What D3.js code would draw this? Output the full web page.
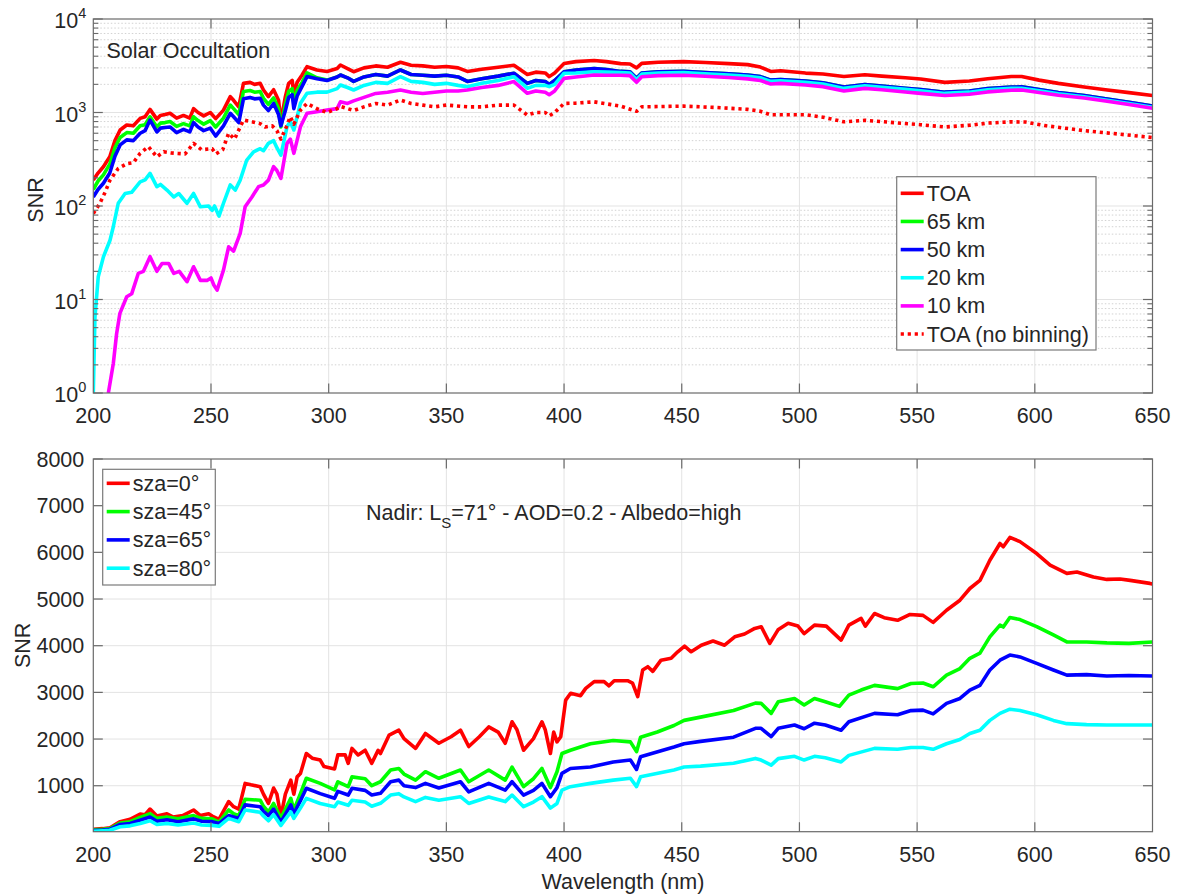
<!DOCTYPE html>
<html><head><meta charset="utf-8">
<script src="https://cdn.jsdelivr.net/npm/d3@7"></script>
<style>
body{margin:0;background:#fff}
svg{display:block}
text{font-family:"Liberation Sans",Arial,Helvetica,sans-serif;fill:#262626}
</style>
</head><body>
<svg id="c" width="1177" height="895"></svg>
<script>
// ---------------- DATA ----------------
const wlTicks = [200,250,300,350,400,450,500,550,600,650];
const topYTicks = [1,10,100,1000,10000];
const botYTicks = [1000,2000,3000,4000,5000,6000,7000,8000];

const topSeriesNames = ["TOA","65 km","50 km","20 km","10 km","TOA (no binning)"];
const botSeriesNames = ["sza=0°","sza=45°","sza=65°","sza=80°"];

// Top panel (Solar Occultation), [wavelength nm, SNR]
const toa = [[200,190],[202,225],[204.3,263],[207,336],[209.2,500],[211.4,650],[214.2,735],[217,720],[219.9,865],[222,900],[224.1,1080],[227,850],[228.5,930],[230.5,950],[232.6,980],[235.4,870],[238.3,930],[241,870],[242.6,1100],[244.5,1000],[246.9,920],[249.7,1000],[252,860],[255.3,1060],[258.2,1480],[259.6,1350],[261.8,1150],[263.8,2050],[266.6,2100],[268.5,2000],[270.9,2050],[272.3,1740],[274.4,1480],[276.6,1750],[278.7,1350],[279.7,800],[281.6,1480],[283,2050],[284.5,2200],[285.2,1600],[286.6,2100],[288.7,2520],[290.8,3090],[295,2850],[299.3,2750],[303.6,2950],[305,3220],[308,2950],[310.6,2730],[315,3000],[320,3150],[325,3050],[330.5,3450],[335,3200],[340,3150],[345,3050],[350,3100],[355,3000],[358.9,2750],[365,2900],[372,3050],[378.7,3200],[384.4,2550],[388,2700],[392,2650],[393.7,2420],[396,2650],[400,3350],[405,3500],[412.8,3600],[418,3500],[424,3330],[428,3300],[430.8,3000],[433,3350],[440,3450],[450.8,3500],[460,3420],[470,3330],[478,3250],[483.4,3060],[487.8,2750],[492,2800],[502.6,2640],[510,2580],[518.9,2430],[527.8,2530],[535,2450],[545,2350],[551.5,2280],[561.8,2100],[572.2,2170],[580,2300],[590,2430],[594.4,2430],[601.8,2220],[610,2050],[621,1870],[630,1750],[640,1630],[650,1520]];

const km65 = [[200,150],[202,185],[204.3,215],[207,280],[209.2,420],[211.4,540],[214.2,610],[217,600],[219.9,720],[222,740],[224.1,900],[227,700],[228.5,770],[230.5,780],[232.6,800],[235.4,710],[238.3,760],[241,720],[242.6,900],[244.5,820],[246.9,750],[249.7,820],[252,700],[255.3,870],[258.2,1200],[259.6,1100],[261.8,950],[263.8,1680],[266.6,1720],[268.5,1650],[270.9,1680],[272.3,1420],[274.4,1220],[276.6,1430],[278.7,1100],[279.7,700],[281.6,1220],[283,1680],[284.5,1800],[285.2,1300],[286.6,1720],[288.7,2100],[290.8,2650],[295,2350],[299.3,2220],[303.6,2400],[305,2520],[308,2350],[310.6,2150],[315,2400],[320,2550],[325,2450],[330.5,2850],[335,2550],[340,2500],[345,2450],[350,2500],[355,2400],[358.9,2150],[365,2300],[372,2450],[378.7,2630],[384.4,2050],[388,2200],[392,2150],[393.7,2000],[396,2200],[400,2730],[405,2850],[412.8,2960],[418,2880],[424,2750],[428,2720],[430.8,2320],[433,2650],[440,2720],[450.8,2750],[460,2680],[470,2600],[478,2520],[483.4,2420],[487.8,2220],[492,2250],[502.6,2170],[510,2080],[518.9,1870],[527.8,1990],[535,1920],[545,1820],[551.5,1760],[561.8,1650],[572.2,1700],[580,1800],[590,1870],[594.4,1880],[601.8,1760],[610,1640],[621,1515],[630,1400],[640,1290],[650,1170]];

const km50 = [[200,125],[202,150],[204.3,175],[207,225],[209.2,340],[211.4,450],[214.2,510],[217,500],[219.9,600],[222,640],[224.1,830],[227,620],[228.5,680],[230.5,690],[232.6,700],[235.4,610],[238.3,660],[241,620],[242.6,780],[244.5,700],[246.9,640],[249.7,680],[252,560],[255.3,720],[258.2,980],[259.6,900],[261.8,780],[263.8,1400],[266.6,1450],[268.5,1400],[270.9,1420],[272.3,1200],[274.4,1050],[276.6,1250],[278.7,950],[279.7,720],[281.6,1050],[283,1450],[284.5,1550],[285.2,1100],[286.6,1500],[288.7,1900],[290.8,2420],[295,2300],[299.3,2200],[303.6,2400],[305,2520],[308,2350],[310.6,2150],[315,2400],[320,2550],[325,2450],[330.5,2850],[335,2550],[340,2500],[345,2450],[350,2500],[355,2400],[358.9,2150],[365,2300],[372,2450],[378.7,2630],[384.4,2050],[388,2200],[392,2150],[393.7,2000],[396,2200],[400,2730],[405,2850],[412.8,2960],[418,2880],[424,2750],[428,2720],[430.8,2320],[433,2650],[440,2720],[450.8,2750],[460,2680],[470,2600],[478,2520],[483.4,2420],[487.8,2220],[492,2250],[502.6,2170],[510,2080],[518.9,1870],[527.8,1990],[535,1920],[545,1820],[551.5,1760],[561.8,1650],[572.2,1700],[580,1800],[590,1870],[594.4,1880],[601.8,1760],[610,1640],[621,1515],[630,1400],[640,1290],[650,1170]];

const km20 = [[200,1],[200.7,6.5],[202.1,17.5],[204.3,28.6],[207.1,43],[208.5,60],[210.6,107],[213.5,136],[216.3,140],[219.9,181],[222,190],[224.1,223],[227,161],[228.5,170],[231.3,148],[234.2,125],[236.3,136],[239.8,107],[242.6,136],[245.5,98],[249,100],[250.5,90],[251.5,100],[253.4,78],[255.3,107],[258.2,168],[260.3,148],[262.4,189],[265.2,310],[268.1,380],[270.9,410],[272.3,390],[274.4,468],[276.6,500],[278,420],[279.7,350],[282.3,703],[283.7,800],[285.2,650],[288,1253],[290.8,1604],[295,1650],[299.3,1650],[303.6,1800],[305,1970],[308,1850],[310.6,1740],[315,1950],[320,2100],[325,2050],[330.5,2415],[335,2150],[340,2100],[345,2000],[350,2050],[355,1950],[358.9,1890],[365,2050],[372,2200],[378.7,2415],[384.4,1820],[388,1950],[392,1950],[393.7,1890],[396,2000],[400,2630],[405,2650],[412.8,2730],[418,2700],[424,2670],[428,2640],[430.8,2250],[433,2570],[440,2640],[450.8,2670],[460,2600],[470,2520],[478,2440],[483.4,2350],[487.8,2150],[492,2180],[502.6,2100],[510,2020],[518.9,1810],[527.8,1930],[535,1860],[545,1770],[551.5,1710],[561.8,1600],[572.2,1650],[580,1750],[590,1810],[594.4,1820],[601.8,1710],[610,1590],[621,1470],[630,1360],[640,1250],[650,1140]];

const km10 = [[206.4,1],[208.5,2.07],[209.9,4.3],[211.3,7.1],[214.2,10.7],[216.3,11.5],[219.1,19],[221.3,20],[224.1,28.7],[227,20],[229.2,24.3],[232,24.3],[234.2,19],[236.5,20],[239.8,15.5],[242.6,22.4],[245.5,16],[248.3,16],[250,17],[251.2,14.3],[252.6,12.6],[255.3,20.6],[257.5,36.6],[259.6,33],[262.4,51],[264.5,98],[267.4,125],[270.2,161],[272.3,168],[274.4,189],[276.6,263],[278,240],[279.7,197],[282.3,468],[283.7,520],[285.2,366],[288,703],[290.8,980],[295,1020],[299.3,1062],[303.6,1100],[305,1300],[308,1250],[310.6,1330],[315,1450],[320,1600],[325,1650],[330.5,1740],[335,1650],[340,1600],[345,1650],[350,1700],[355,1700],[358.9,1740],[365,1850],[372,1950],[378.7,2140],[384.4,1604],[388,1700],[392,1650],[393.7,1550],[396,1700],[400,2317],[405,2400],[412.8,2520],[418,2500],[424,2500],[428,2480],[430.8,2110],[433,2410],[440,2480],[450.8,2500],[460,2440],[470,2370],[478,2290],[483.4,2200],[487.8,2020],[492,2050],[502.6,1970],[510,1890],[518.9,1700],[527.8,1810],[535,1750],[545,1660],[551.5,1600],[561.8,1520],[572.2,1570],[580,1660],[590,1730],[594.4,1740],[601.8,1640],[610,1530],[621,1430],[630,1330],[640,1220],[650,1110]];

const toaNoBin = [[200,83],[202.8,107],[205,140],[207.1,189],[210.6,252],[214.2,283],[217,290],[219.9,366],[223.4,431],[227,336],[229.9,380],[233,370],[236,365],[239,360],[242.6,468],[246,400],[250.5,410],[252,360],[255,400],[257.5,600],[260,520],[263.8,830],[267,800],[270.9,760],[273,700],[276,720],[278,640],[279.7,520],[282,700],[283.7,900],[285.2,750],[288,1060],[290.8,1250],[295,1100],[299.3,1000],[303.6,1100],[305,1160],[310.6,1050],[315,1150],[320,1250],[325,1200],[330.5,1360],[335,1250],[340,1200],[345,1150],[350,1200],[358.9,1150],[365,1150],[372,1200],[378.7,1200],[384.4,940],[388,1000],[392,1000],[393.7,920],[396,1000],[400,1250],[405,1260],[412.8,1300],[424,1170],[430.8,1030],[433,1150],[450.8,1170],[465,1130],[478,1080],[483.4,1030],[487.8,945],[502.6,945],[510,890],[518.9,795],[527.8,825],[540,780],[551.5,740],[561.8,700],[572.2,730],[580,770],[590,795],[596,790],[605,720],[621,640],[635,590],[650,540]];

// Bottom panel (Nadir), [wavelength nm, SNR]
const sza0 = [[200,66],[204,80],[207.1,100],[211.4,230],[215.6,280],[219.9,394],[222,380],[224.1,500],[227,350],[231.3,400],[234,330],[238,360],[242.6,480],[245.5,360],[249,400],[250.5,350],[253.4,280],[257.5,660],[259.6,550],[261.8,500],[264.5,1050],[267,1020],[270.9,980],[272.3,820],[274.4,620],[276.6,950],[278,820],[279.7,340],[281.6,820],[283.9,1120],[285.2,820],[286.6,1190],[288,1260],[290.5,1690],[293,1590],[296.4,1550],[298,1410],[302.5,1360],[303.9,1660],[307,1660],[308.3,1480],[309.9,1800],[312.5,1660],[315.5,1760],[318.3,1480],[321,1760],[322,1690],[325.7,2085],[329.8,2190],[332,2010],[336.9,1800],[341.1,2120],[346.8,1910],[352,2050],[356,2190],[359.5,1840],[364,2050],[368,2260],[372,2150],[375,1910],[377.9,2370],[380,2200],[382.8,1760],[387,2010],[390.6,2370],[392,2200],[394.2,1690],[395.6,2150],[397,1940],[398.6,2050],[400.7,2835],[402.8,2980],[407,2930],[409.2,3085],[412.8,3230],[417,3230],[419.1,3140],[421.3,3250],[427,3250],[429.1,3200],[431.3,2910],[433.4,3480],[435.6,3550],[437.7,3450],[441.2,3690],[445.5,3730],[448.3,3870],[451.2,3990],[454,3870],[458.3,4010],[463.3,4100],[468.2,4010],[472.5,4190],[476.7,4250],[481,4370],[483.8,4405],[487.4,4050],[490.9,4340],[495.2,4480],[499.4,4420],[502,4260],[506.4,4440],[511.4,4420],[517.7,4120],[521,4440],[526.2,4585],[528,4420],[531.9,4690],[536,4600],[541.7,4545],[547,4670],[552.5,4650],[556.8,4500],[562.5,4760],[568.2,4975],[572.4,5225],[576.7,5400],[580.9,5830],[585.2,6190],[586.6,6120],[589.4,6320],[593.7,6230],[600.8,5975],[606.5,5725],[613.6,5550],[617.9,5580],[624.9,5470],[630.6,5420],[636.2,5430],[640.5,5400],[648.9,5335],[650,5320]];

const sza45 = [[200,55],[204,65],[207,80],[211.4,200],[215.6,230],[219.9,323],[224.1,400],[227,300],[231.3,330],[236,290],[242.6,360],[246,300],[250.5,290],[253.4,220],[257.5,480],[259.6,400],[261.8,360],[264.5,710],[270.9,690],[272.3,560],[274.4,440],[276.6,620],[279.7,300],[283.9,730],[285.2,480],[288,830],[290.5,1160],[296.4,1050],[302.5,910],[303.9,1085],[308.3,980],[309.9,1190],[315.5,1150],[318.3,1000],[322,1085],[326.3,1336],[329.8,1370],[332,1250],[336.9,1120],[341.1,1300],[346.8,1160],[356,1336],[359.5,1085],[368,1336],[375,1120],[377.9,1400],[382.8,980],[387,1150],[390.6,1370],[394.2,960],[397,1300],[399.1,1690],[402.7,1760],[411.2,1900],[420.9,1970],[428.2,1940],[430.8,1730],[432.5,2040],[439.6,2150],[446.7,2290],[451,2400],[458,2470],[472,2610],[481.3,2770],[483.7,2765],[488,2550],[491,2800],[497.9,2870],[502,2730],[506.4,2870],[511,2800],[517,2700],[521,2940],[526.2,3050],[531.9,3150],[541.7,3080],[547.4,3190],[552.5,3200],[556.8,3120],[562.5,3370],[568.2,3510],[572.4,3730],[576.7,3840],[580.9,4190],[585.2,4440],[586.6,4400],[589.4,4605],[593.7,4560],[600.8,4410],[607.9,4230],[613.6,4080],[622,4080],[630.6,4060],[640,4050],[650,4080]];

const sza65 = [[200,40],[204,50],[207,65],[211.4,170],[215.6,190],[219.9,260],[224.1,330],[227,240],[231.3,270],[236,230],[242.6,290],[246,240],[250.5,230],[253.4,190],[257.5,360],[261.8,300],[264.5,590],[270.9,550],[272.3,450],[274.4,360],[276.6,500],[279.7,220],[283.9,590],[285.2,400],[288,680],[290.5,945],[296.4,830],[302.5,730],[303.9,880],[308.3,800],[309.9,945],[315.5,900],[318.3,800],[322,837],[326.3,1085],[329.8,1120],[332,1000],[336.9,960],[341.1,1050],[346.8,950],[356,1085],[359.5,870],[368,1050],[375,905],[377.9,1085],[382.8,800],[387,900],[390.6,1050],[394.2,765],[397,960],[399.1,1265],[402.7,1370],[411.2,1400],[420.9,1510],[428.2,1550],[430.8,1350],[432.5,1620],[446.7,1830],[451,1900],[458,1950],[472,2040],[481.3,2230],[483.7,2230],[488,2050],[491,2230],[497.9,2300],[502,2220],[506.4,2340],[511,2300],[517.7,2190],[521,2370],[531.9,2550],[541.7,2520],[547.4,2610],[552.5,2620],[556.8,2540],[562.5,2765],[568.2,2870],[572.4,3050],[576.7,3150],[580.9,3480],[585.2,3690],[589.4,3800],[593.7,3760],[600.8,3620],[607.9,3480],[613.6,3370],[622,3380],[630.6,3350],[640,3360],[650,3350]];

const sza80 = [[200,25],[204,35],[207,45],[211.4,120],[215.6,140],[219.9,190],[224.1,250],[227,170],[231.3,190],[236,160],[242.6,200],[246,160],[250.5,150],[253.4,130],[257.5,300],[261.8,230],[264.5,480],[270.9,430],[272.3,350],[274.4,250],[276.6,380],[279.7,150],[283.9,440],[285.2,300],[288,520],[290.5,730],[296.4,620],[302.5,550],[303.9,650],[308.3,580],[309.9,690],[315.5,650],[318.3,560],[322,623],[326.3,800],[329.8,830],[332,760],[336.9,660],[341.1,750],[346.8,690],[356,765],[359.5,620],[368,760],[375,660],[377.9,800],[382.8,550],[387,650],[390.6,765],[394.2,520],[397,620],[399.1,907],[402.7,980],[411.2,1050],[420.9,1120],[428.2,1160],[430.8,980],[432.5,1190],[446.7,1336],[451,1400],[458,1420],[472,1480],[481.3,1585],[483.7,1550],[488,1440],[491,1580],[497.9,1630],[502,1550],[506.4,1630],[511,1600],[517.7,1510],[521,1650],[531.9,1800],[541.7,1780],[547.4,1820],[552.5,1820],[556.8,1780],[562.5,1900],[568.2,1990],[572.4,2120],[576.7,2190],[580.9,2400],[585.2,2550],[589.4,2640],[593.7,2610],[600.8,2520],[607.9,2400],[613.6,2330],[622,2310],[630.6,2300],[640,2300],[650,2300]];

// ---------------- DRAWING ----------------
const svg = d3.select("#c");
const FS = 21.5;
const axisCol = "#6a6a6a", gridCol = "#e3e3e3", minorCol = "#d2d2d2";
const X0 = 93.3, X1 = 1152.5;
const x = d3.scaleLinear().domain([200,650]).range([X0,X1]);
const T0 = 19, T1 = 393;
const yT = d3.scaleLog().domain([1,1e4]).range([T1,T0]);
const B0 = 459, B1 = 831.7;
const yB = d3.scaleLinear().domain([15,8000]).range([B1,B0]);

svg.append("rect").attr("width",1177).attr("height",895).attr("fill","#fff");
const defs = svg.append("defs");
defs.append("clipPath").attr("id","clipT").append("rect").attr("x",X0).attr("y",T0).attr("width",X1-X0).attr("height",T1-T0);
defs.append("clipPath").attr("id","clipB").append("rect").attr("x",X0).attr("y",B0).attr("width",X1-X0).attr("height",B1-B0);

// ---- Top grid ----
const gT = svg.append("g");
const minorVals = [];
for (let e=0;e<4;e++) for (let k=2;k<=9;k++) minorVals.push(k*Math.pow(10,e));
gT.selectAll(".mg").data(minorVals).join("line")
  .attr("x1",X0).attr("x2",X1).attr("y1",d=>yT(d)).attr("y2",d=>yT(d))
  .attr("stroke",minorCol).attr("stroke-width",1).attr("stroke-dasharray","1.5,2");
gT.selectAll(".hg").data(topYTicks.slice(1,-1)).join("line")
  .attr("x1",X0).attr("x2",X1).attr("y1",d=>yT(d)).attr("y2",d=>yT(d))
  .attr("stroke",gridCol).attr("stroke-width",1);
gT.selectAll(".vg").data(wlTicks.slice(1,-1)).join("line")
  .attr("x1",d=>x(d)).attr("x2",d=>x(d)).attr("y1",T0).attr("y2",T1)
  .attr("stroke",gridCol).attr("stroke-width",1);

// ---- Bottom grid ----
const gB = svg.append("g");
gB.selectAll(".hg").data(botYTicks.slice(0,-1)).join("line")
  .attr("x1",X0).attr("x2",X1).attr("y1",d=>yB(d)).attr("y2",d=>yB(d))
  .attr("stroke",gridCol).attr("stroke-width",1);
gB.selectAll(".vg").data(wlTicks.slice(1,-1)).join("line")
  .attr("x1",d=>x(d)).attr("x2",d=>x(d)).attr("y1",B0).attr("y2",B1)
  .attr("stroke",gridCol).attr("stroke-width",1);

// ---- Lines ----
const LW = 3.6;
const topSeries = [
  {d:toa, c:"#ff0000", dash:null},
  {d:km65, c:"#00ff00", dash:null},
  {d:km50, c:"#0000ff", dash:null},
  {d:km20, c:"#00ffff", dash:null},
  {d:km10, c:"#ff00ff", dash:null},
  {d:toaNoBin, c:"#ff0000", dash:"3.2,3.8"}
];
const lineT = d3.line().x(d=>x(d[0])).y(d=>yT(d[1]));
const gLT = svg.append("g").attr("clip-path","url(#clipT)");
topSeries.forEach(s=>{
  gLT.append("path").attr("d",lineT(s.d)).attr("fill","none").attr("stroke",s.c)
    .attr("stroke-width",LW).attr("stroke-linejoin","round")
    .attr("stroke-dasharray",s.dash);
});
const botSeries = [
  {d:sza0, c:"#ff0000"},{d:sza45, c:"#00ff00"},{d:sza65, c:"#0000ff"},{d:sza80, c:"#00ffff"}
];
const lineB = d3.line().x(d=>x(d[0])).y(d=>yB(d[1]));
const gLB = svg.append("g").attr("clip-path","url(#clipB)");
botSeries.forEach(s=>{
  gLB.append("path").attr("d",lineB(s.d)).attr("fill","none").attr("stroke",s.c)
    .attr("stroke-width",LW).attr("stroke-linejoin","round");
});

// ---- Axes frames & ticks ----
function frame(y0,y1){
  svg.append("rect").attr("x",X0).attr("y",y0).attr("width",X1-X0).attr("height",y1-y0)
    .attr("fill","none").attr("stroke",axisCol).attr("stroke-width",1.2);
  const TL = 9.5;
  const tg = svg.append("g");
  wlTicks.slice(1,-1).forEach(d=>{
    tg.append("line").attr("x1",x(d)).attr("x2",x(d)).attr("y1",y1).attr("y2",y1-TL).attr("stroke",axisCol).attr("stroke-width",1.2);
    tg.append("line").attr("x1",x(d)).attr("x2",x(d)).attr("y1",y0).attr("y2",y0+TL).attr("stroke",axisCol).attr("stroke-width",1.2);
  });
  svg.append("g").selectAll("text").data(wlTicks).join("text")
    .attr("x",d=>x(d)).attr("y",y1+30).attr("text-anchor","middle").attr("font-size",FS).text(d=>d);
}
frame(T0,T1);
frame(B0,B1);

// top y ticks
const gYT = svg.append("g");
topYTicks.forEach(v=>{
  const yy = yT(v);
  [[X0,X0+9.5],[X1,X1-9.5]].forEach(p=>gYT.append("line").attr("x1",p[0]).attr("x2",p[1]).attr("y1",yy).attr("y2",yy).attr("stroke",axisCol).attr("stroke-width",1.2));
  const t = gYT.append("text").attr("x",X0-7).attr("y",yy+9).attr("text-anchor","end").attr("font-size",FS);
  t.append("tspan").text("10");
  t.append("tspan").attr("font-size",14.5).attr("dy",-10).text(Math.round(Math.log10(v)));
});
minorVals.forEach(v=>{
  const yy = yT(v);
  [[X0,X0+5],[X1,X1-5]].forEach(p=>gYT.append("line").attr("x1",p[0]).attr("x2",p[1]).attr("y1",yy).attr("y2",yy).attr("stroke",axisCol).attr("stroke-width",1.1));
});
// bottom y ticks
const gYB = svg.append("g");
botYTicks.forEach(v=>{
  const yy = yB(v);
  [[X0,X0+9.5],[X1,X1-9.5]].forEach(p=>gYB.append("line").attr("x1",p[0]).attr("x2",p[1]).attr("y1",yy).attr("y2",yy).attr("stroke",axisCol).attr("stroke-width",1.2));
  gYB.append("text").attr("x",X0-9).attr("y",yy+7.5).attr("text-anchor","end").attr("font-size",FS).text(v);
});

// axis labels
svg.append("text").attr("transform",`translate(43,200) rotate(-90)`).attr("text-anchor","middle").attr("font-size",FS).text("SNR");
svg.append("text").attr("transform",`translate(29.5,${(B0+B1)/2}) rotate(-90)`).attr("text-anchor","middle").attr("font-size",FS).text("SNR");
svg.append("text").attr("x",(X0+X1)/2).attr("y",889).attr("text-anchor","middle").attr("font-size",FS).text("Wavelength (nm)");

// annotations
svg.append("text").attr("x",106.5).attr("y",58).attr("font-size",FS).text("Solar Occultation");
const ann = svg.append("text").attr("x",366).attr("y",520).attr("font-size",FS);
ann.append("tspan").text("Nadir: L");
ann.append("tspan").attr("font-size",15).attr("dy",8).text("S");
ann.append("tspan").attr("dy",-8).text("=71° - AOD=0.2 - Albedo=high");

// ---- Legends ----
function legend(x0,y0,w,h,rowY0,rowDY,items){
  const g = svg.append("g");
  g.append("rect").attr("x",x0).attr("y",y0).attr("width",w).attr("height",h).attr("fill","#fff").attr("stroke","#7a7a7a").attr("stroke-width",1.2);
  items.forEach((it,i)=>{
    const yy = rowY0 + i*rowDY;
    g.append("line").attr("x1",x0+4).attr("x2",x0+27).attr("y1",yy).attr("y2",yy).attr("stroke",it.c).attr("stroke-width",LW).attr("stroke-dasharray",it.dash||null);
    g.append("text").attr("x",x0+30).attr("y",yy+7.5).attr("font-size",FS).text(it.name);
  });
}
legend(896.7,176.7,199.3,173.3,193.3,28.15,topSeries.map((s,i)=>({c:s.c,dash:s.dash,name:topSeriesNames[i]})));
legend(102.7,469.3,112.6,115.7,483.3,28.3,botSeries.map((s,i)=>({c:s.c,name:botSeriesNames[i]})));
</script>
</body></html>
